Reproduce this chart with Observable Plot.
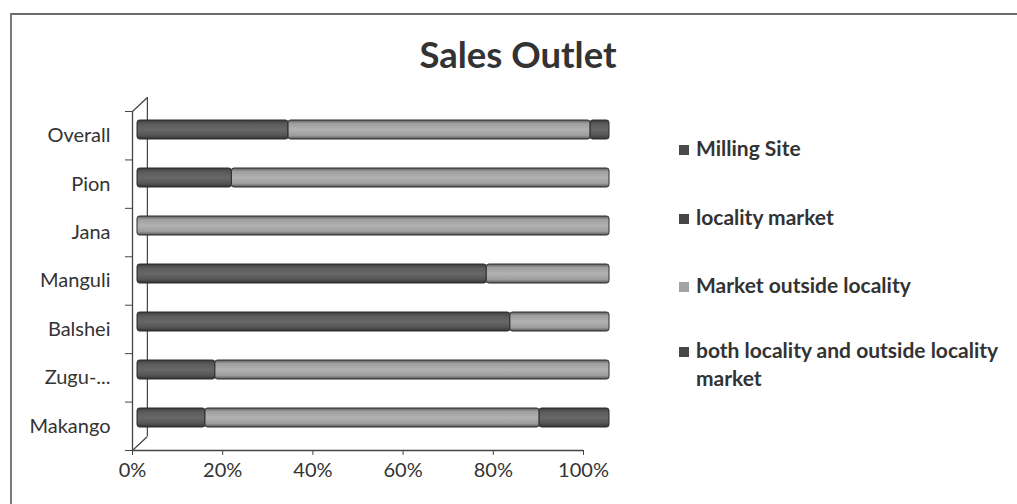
<!DOCTYPE html>
<html>
<head>
<meta charset="utf-8">
<script src="https://cdn.jsdelivr.net/npm/d3@7"></script>
<script src="https://cdn.jsdelivr.net/npm/@observablehq/plot@0.6"></script>
<style>
  html, body { margin: 0; padding: 0; background: #fff; }
  #chart { position: relative; width: 1017px; height: 504px; background: #fff; overflow: hidden; font-family: Lato, "Open Sans", sans-serif; color: #2e2e2e; }
  #chart .layer { position: absolute; left: 0; top: 0; }
  #border { position: absolute; left: 10px; top: 13px; width: 1010px; height: 500px; border-left: 2px solid #7a7a7a; border-top: 2px solid #6a6a6a; }
  #title { position: absolute; left: 0; width: 1036px; top: 32px; text-align: center; font-size: 36.5px; font-weight: 700; color: #333; }
  #legend { position: absolute; left: 679px; top: 0; }
  .lg { position: absolute; left: 0; white-space: nowrap; font-size: 21px; font-weight: 700; line-height: 28px; color: #333; }
  .sw { display: inline-block; width: 10px; height: 10px; margin-right: 7px; vertical-align: 1px; }
</style>
</head>
<body>
<div id="chart">
  <div id="border"></div>
  <div id="title">Sales Outlet</div>
  <div id="legend"></div>
</div>
<script>
// ---- data (percent of respondents) ----
const categories = ["Overall", "Pion", "Jana", "Manguli", "Balshei", "Zugu-...", "Makango"];
const seriesNames = ["Milling Site", "locality market", "Market outside locality", "both locality and outside locality market"];
const millingSite    = [32, 20, 0, 74, 79, 16.5, 14.4];
const localityMarket = [0, 0, 0, 0, 0, 0, 0];
const outsideMarket  = [64, 80, 100, 26, 21, 83.5, 70.8];
const bothMarkets    = [4, 0, 0, 0, 0, 0, 14.8];
const xTicks = [0, 20, 40, 60, 80, 100];

const seriesValues = [millingSite, localityMarket, outsideMarket, bothMarkets];
const seriesFill = ["url(#gDark)", "url(#gDark2)", "url(#gLight)", "url(#gDark)"];
const legendSwatch = ["#4a4a4a", "#454545", "#a3a3a3", "#474747"];

const rows = [];
seriesNames.forEach((s, k) => {
  categories.forEach((c, i) => rows.push({category: c, series: s, k, value: seriesValues[k][i]}));
});

const W = 1017, H = 504;
// 3D wall depth (in data units of the axis layer)
const depthX = 3.3, depthY = 0.29;

// ---- axis / wall layer ----
const axes = Plot.plot({
  width: W, height: H,
  marginLeft: 132, marginRight: 434, marginTop: 111, marginBottom: 54,
  style: {fontFamily: "Lato, 'Open Sans', sans-serif", fontSize: "20px", color: "#333", background: "transparent", overflow: "visible"},
  x: {domain: [0, 100], label: null},
  y: {domain: [0, categories.length], reverse: true, label: null},
  marks: [
    Plot.ruleY([categories.length], {x1: 0, x2: 100, stroke: "#444", strokeWidth: 1.3}),
    Plot.ruleX([0], {y1: 0, y2: categories.length, stroke: "#444", strokeWidth: 1.3}),
    Plot.ruleX([depthX], {y1: -depthY, y2: categories.length - depthY, stroke: "#444", strokeWidth: 1.2}),
    Plot.link([{a: 0, b: 0}, {a: 0, b: categories.length}], {x1: "a", y1: "b", x2: d => d.a + depthX, y2: d => d.b - depthY, stroke: "#444", strokeWidth: 1.2}),
    Plot.axisX({ticks: xTicks, tickSize: 5, tickPadding: 7, tickFormat: d => d + "%", stroke: "#444", fontSize: 20, label: null}),
    Plot.axisY({ticks: d3.range(0, categories.length + 1), tickSize: 7, tickFormat: () => "", stroke: "#444", label: null}),
    Plot.axisY({ticks: categories.map((_, i) => i + 0.5), tickSize: 0, tickPadding: 22, tickFormat: d => categories[Math.round(d - 0.5)], fontSize: 20, label: null})
  ]
});
axes.classList.add("layer");
document.getElementById("chart").appendChild(axes);

// ---- bar layer (sits in the middle of the 3D depth) ----
const bars = Plot.plot({
  width: W, height: H,
  marginLeft: 137, marginRight: 408, marginTop: 104, marginBottom: 61,
  style: {background: "transparent", overflow: "visible"},
  x: {domain: [0, 100], axis: null},
  y: {domain: categories, axis: null, paddingInner: 0.6, paddingOuter: 0.3},
  color: {type: "identity"},
  marks: [
    Plot.barX(rows.filter(d => d.value > 0), Plot.stackX({
      x: "value", y: "category", z: "series",
      fill: d => seriesFill[d.k],
      stroke: "#2c2c2c", strokeWidth: 1, rx: 2.5
    }))
  ]
});
bars.classList.add("layer");
const defs = d3.select(bars).insert("defs", ":first-child");
function grad(id, stops) {
  const g = defs.append("linearGradient").attr("id", id).attr("x1", 0).attr("y1", 0).attr("x2", 0).attr("y2", 1);
  stops.forEach(([o, c]) => g.append("stop").attr("offset", o).attr("stop-color", c));
}
grad("gDark", [[0, "#3a3a3a"], [0.2, "#5a5a5a"], [0.5, "#676767"], [0.8, "#565656"], [1, "#333"]]);
grad("gDark2", [[0, "#363636"], [0.2, "#555"], [0.5, "#626262"], [0.8, "#525252"], [1, "#303030"]]);
grad("gLight", [[0, "#5e5e5e"], [0.18, "#9e9e9e"], [0.5, "#b2b2b2"], [0.82, "#9c9c9c"], [1, "#555"]]);
document.getElementById("chart").appendChild(bars);

// ---- legend ----
const legend = document.getElementById("legend");
const legendTops = [134, 203, 271, 336];
seriesNames.forEach((s, k) => {
  const div = document.createElement("div");
  div.className = "lg";
  div.style.top = legendTops[k] + "px";
  const words = s === "both locality and outside locality market" ? ["both locality and outside locality", "market"] : [s];
  div.innerHTML = `<span class="sw" style="background:${legendSwatch[k]}"></span>${words[0]}` +
    (words[1] ? `<br><span style="padding-left:17px">${words[1]}</span>` : "");
  legend.appendChild(div);
});
</script>
</body>
</html>
